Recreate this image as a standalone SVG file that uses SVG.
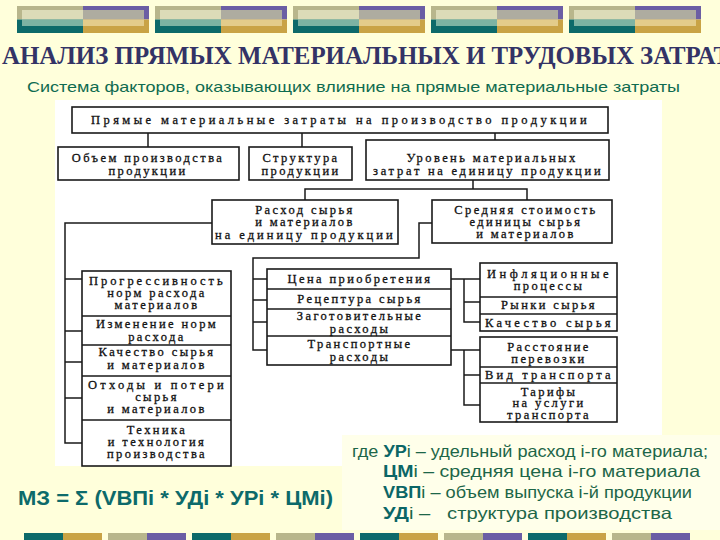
<svg xmlns="http://www.w3.org/2000/svg" width="720" height="540" viewBox="0 0 720 540">
<style>
.box{fill:#fff;stroke:#1a1a1a;stroke-width:1.6}
.div{stroke:#1a1a1a;stroke-width:1.3}
.t{font-family:"Liberation Serif",serif;font-size:12.5px;fill:#111;stroke:#111;stroke-width:0.3;text-anchor:middle;letter-spacing:2.4px}
.conn path{fill:none;stroke:#1a1a1a;stroke-width:1.5}
.g{font-family:"Liberation Sans",Arial,sans-serif;font-size:16.5px;fill:#1d6648}
.b{font-weight:bold;fill:#0b6666}
</style>
<defs>
<g id="deco">
<rect x="0" y="0" width="66" height="13.5" fill="#b8b68c"/>
<rect x="0" y="13.5" width="66" height="13.5" fill="#0d6a6a"/>
<rect x="5" y="4" width="61" height="9.5" fill="#dcdbb8"/>
<rect x="5" y="13.5" width="61" height="6.5" fill="#7db3a3"/>
<rect x="66" y="0" width="66" height="13.5" fill="#6b5ea4"/>
<rect x="66" y="13.5" width="66" height="13.5" fill="#c9a345"/>
<rect x="66" y="4" width="61" height="9.5" fill="#aeaca0"/>
<rect x="66" y="13.5" width="61" height="6.5" fill="#e3cc8a"/>
</g>
<g id="bt"><rect x="0" y="0" width="39" height="8" fill="#0d6a6a"/><rect x="39" y="0" width="39" height="8" fill="#c9a345"/></g>
<g id="bp"><rect x="0" y="0" width="39" height="8" fill="#b8b68c"/><rect x="39" y="0" width="39" height="8" fill="#6b5ea4"/></g>
</defs>
<rect width="720" height="540" fill="#FFFFDB"/>
<g id="topbars">
<use href="#deco" x="17" y="6"/><use href="#deco" x="155" y="6"/><use href="#deco" x="293" y="6"/><use href="#deco" x="431" y="6"/><use href="#deco" x="569" y="6"/>
</g>
<g id="bottombars">
<use href="#bt" x="24" y="533"/><use href="#bp" x="108" y="533"/><use href="#bt" x="192" y="533"/><use href="#bp" x="276" y="533"/>
<use href="#bt" x="360" y="533"/><use href="#bp" x="444" y="533"/><use href="#bt" x="528" y="533"/><use href="#bp" x="612" y="533"/>
</g>
<text x="2" y="64" font-family="Liberation Serif,serif" font-weight="bold" font-size="24.5" fill="#333366" textLength="728" lengthAdjust="spacingAndGlyphs">АНАЛИЗ ПРЯМЫХ МАТЕРИАЛЬНЫХ И ТРУДОВЫХ ЗАТРАТ</text>
<text x="27" y="92" font-family="Liberation Sans,Arial,sans-serif" font-size="15" fill="#0f6b50" textLength="653" lengthAdjust="spacingAndGlyphs">Система факторов, оказывающих влияние на прямые материальные затраты</text>
<rect x="55" y="100" width="607" height="366" fill="#fff"/>
<rect x="342" y="435" width="378" height="95" fill="#FFFFEA"/>

<g class="conn">
<path d="M148 133V147M302 133V147M495 133V140"/>
<path d="M473 180V189M305 200V189H527V200"/>
<path d="M212 223H65V443H82M65 279H82M65 331H82M65 362H82M65 398H82"/>
<path d="M432 223H419V258H253V350H267M253 279H267M253 300H267M253 322H267"/>
<path d="M451 279H480M464 279V322H480M464 302H480"/>
<path d="M451 350H480M464 350V405H480M464 375H480"/>
</g>

<g id="n1"><rect class="box" x="72" y="107" width="536" height="26"/><text class="t" x="340" y="124" textLength="498">Прямые материальные  затраты на производство продукции</text></g>
<g id="n2"><rect class="box" x="58" y="147" width="181" height="33"/><text class="t" x="148" y="162">Объем производства</text><text class="t" x="148" y="175">продукции</text></g>
<g id="n3"><rect class="box" x="249" y="147" width="103" height="33"/><text class="t" x="301" y="162">Структура</text><text class="t" x="301" y="175">продукции</text></g>
<g id="n4"><rect class="box" x="366" y="140" width="243" height="40"/><text class="t" x="492" y="162">Уровень материальных</text><text class="t" x="488" y="175" textLength="230">затрат на единицу продукции</text></g>
<g id="n5"><rect class="box" x="212" y="200" width="186" height="44"/><text class="t" x="305" y="214">Расход сырья</text><text class="t" x="305" y="226">и материалов</text><text class="t" x="305" y="239" textLength="180">на единицу продукции</text></g>
<g id="n6"><rect class="box" x="432" y="200" width="180" height="43"/><text class="t" x="526" y="214">Средняя стоимость</text><text class="t" x="526" y="226">единицы сырья</text><text class="t" x="526" y="238">и материалов</text></g>

<g id="n7"><rect class="box" x="82" y="271" width="149" height="195"/>
<path class="div" d="M82 316H231M82 345H231M82 376H231M82 420H231"/>
<text class="t" x="157" y="285" textLength="136">Прогрессивность</text><text class="t" x="157" y="297">норм расхода</text><text class="t" x="157" y="309">материалов</text>
<text class="t" x="157" y="328">Изменение норм</text><text class="t" x="157" y="341">расхода</text>
<text class="t" x="157" y="356">Качество сырья</text><text class="t" x="157" y="369">и материалов</text>
<text class="t" x="157" y="389" textLength="138">Отходы  и потери</text><text class="t" x="157" y="401">сырья</text><text class="t" x="157" y="413">и материалов</text>
<text class="t" x="157" y="434">Техника</text><text class="t" x="157" y="446">и технология</text><text class="t" x="157" y="458">производства</text>
</g>

<g id="n8"><rect class="box" x="267" y="269" width="184" height="96"/>
<path class="div" d="M267 289H451M267 309H451M267 336H451"/>
<text class="t" x="360" y="283">Цена приобретения</text>
<text class="t" x="360" y="303">Рецептура сырья</text>
<text class="t" x="360" y="320">Заготовительные</text><text class="t" x="360" y="333">расходы</text>
<text class="t" x="360" y="348">Транспортные</text><text class="t" x="360" y="361">расходы</text>
</g>

<g id="n9"><rect class="box" x="480" y="263" width="137" height="68"/>
<path class="div" d="M480 297H617M480 314H617"/>
<text class="t" x="549" y="278" textLength="124">Инфляционные</text><text class="t" x="549" y="290">процессы</text>
<text class="t" x="549" y="309">Рынки сырья</text>
<text class="t" x="549" y="327" textLength="128">Качество сырья</text>
</g>

<g id="n10"><rect class="box" x="480" y="337" width="137" height="85"/>
<path class="div" d="M480 367H617M480 383H617"/>
<text class="t" x="549" y="351">Расстояние</text><text class="t" x="549" y="363">перевозки</text>
<text class="t" x="549" y="379" textLength="128">Вид транспорта</text>
<text class="t" x="549" y="396">Тарифы</text><text class="t" x="549" y="407">на услуги</text><text class="t" x="549" y="419">транспорта</text>
</g>

<text x="18" y="505" font-family="Liberation Sans,Arial,sans-serif" font-weight="bold" font-size="21" fill="#0d6a6a" textLength="315" lengthAdjust="spacingAndGlyphs">МЗ = Σ (VВПі * УДі * УРі * ЦМі)</text>

<text class="g" x="352" y="457" textLength="356" lengthAdjust="spacingAndGlyphs">где <tspan class="b">УР</tspan>і – удельный расход і-го материала;</text>
<text class="g" x="383" y="477" textLength="317" lengthAdjust="spacingAndGlyphs"><tspan class="b">ЦМ</tspan>і – средняя цена і-го материала</text>
<text class="g" x="383" y="498" textLength="309" lengthAdjust="spacingAndGlyphs"><tspan class="b">VВП</tspan>і – объем выпуска і-й продукции</text>
<text class="g" x="383" y="519" textLength="289" lengthAdjust="spacingAndGlyphs" xml:space="preserve"><tspan class="b">УД</tspan>і –   структура производства</text>
</svg>
